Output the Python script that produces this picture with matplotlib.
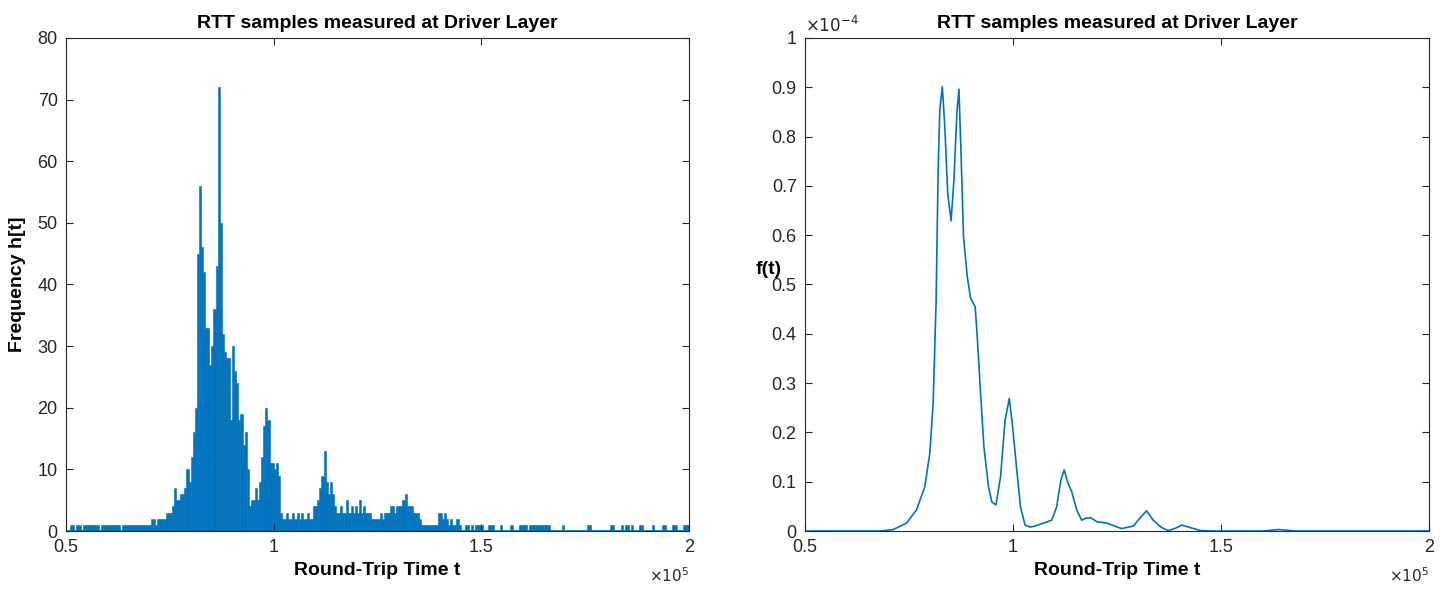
import numpy as np
import matplotlib
matplotlib.use("Agg")
import matplotlib.pyplot as plt

plt.rcParams["font.family"] = ["Liberation Sans", "DejaVu Sans"]

# ── Data ──────────────────────────────────────────────────────
BIN_START = 50000
BIN_WIDTH = 500

# histogram counts, one row per 10 000 (20 bins of 500)
counts_050 = [0, 0, 1, 1, 0, 1, 1, 0, 1, 1, 1, 1, 1, 1, 1, 1, 0, 1, 1, 1]
counts_060 = [1, 1, 1, 1, 1, 1, 0, 1, 1, 1, 1, 1, 1, 1, 1, 1, 1, 1, 1, 1]
counts_070 = [1, 2, 2, 1, 2, 2, 2, 2, 3, 3, 3, 4, 7, 5, 5, 6, 6, 7, 10, 8]
counts_080 = [12, 16, 20, 45, 56, 46, 42, 33, 33, 27, 30, 36, 43, 72, 50, 32, 29, 28, 28, 18]
counts_090 = [30, 26, 24, 18, 19, 14, 16, 10, 4, 5, 5, 7, 5, 8, 12, 17, 20, 18, 11, 11]
counts_100 = [10, 11, 9, 3, 2, 2, 3, 2, 2, 3, 2, 3, 2, 3, 2, 2, 3, 2, 2, 4]
counts_110 = [4, 5, 7, 9, 13, 8, 6, 8, 6, 4, 3, 3, 4, 3, 3, 5, 3, 4, 3, 4]
counts_120 = [3, 5, 3, 4, 3, 3, 3, 2, 2, 2, 2, 3, 2, 3, 3, 3, 4, 4, 3, 4]
counts_130 = [4, 4, 5, 6, 4, 4, 4, 3, 3, 3, 2, 1, 1, 1, 1, 1, 1, 1, 1, 3]
counts_140 = [3, 2, 3, 2, 1, 2, 1, 1, 2, 1, 0, 0, 1, 1, 0, 1, 0, 1, 1, 1]
counts_150 = [1, 0, 0, 1, 1, 1, 0, 0, 0, 1, 0, 0, 0, 0, 1, 0, 0, 0, 1, 1]
counts_160 = [1, 1, 0, 1, 1, 1, 1, 1, 1, 1, 1, 1, 1, 0, 0, 0, 0, 0, 0, 1]
counts_170 = [0, 0, 0, 0, 0, 0, 0, 0, 0, 0, 0, 1, 1, 0, 0, 0, 0, 0, 0, 0]
counts_180 = [0, 0, 1, 1, 0, 0, 0, 1, 0, 1, 1, 0, 1, 0, 0, 0, 1, 1, 0, 0]
counts_190 = [0, 0, 1, 0, 0, 0, 0, 1, 1, 0, 0, 0, 1, 1, 0, 0, 0, 1, 1, 1]

# estimated density f(t), in units of 1e-4
rtt_t = [50000, 60000, 68000, 71200, 74400, 76800, 78800, 80000, 80800,
         81500, 82000, 82400, 83000, 83600, 84300, 85100, 85800, 86500,
         87000, 87500, 88100, 89000, 89800, 90900, 91400, 92100, 93000,
         94100, 94900, 95900, 97000, 98100, 99100, 99900, 100900, 101800,
         102900, 104100, 105300, 107300, 109300, 110500, 111500, 112300,
         113200, 114100, 115300, 116500, 117500, 118700, 120100, 122500,
         126100, 128900, 130500, 132100, 133700, 135700, 137300, 138900,
         140600, 142600, 145000, 148200, 160000, 164000, 168000, 200000]
pdf_e4 = [0.0, 0.0, 0.0, 0.003, 0.016, 0.043, 0.09, 0.158, 0.26,
          0.462, 0.732, 0.854, 0.901, 0.82, 0.685, 0.629, 0.712, 0.848,
          0.896, 0.767, 0.597, 0.516, 0.472, 0.455, 0.394, 0.293, 0.171,
          0.09, 0.059, 0.053, 0.11, 0.225, 0.269, 0.212, 0.124, 0.049,
          0.012, 0.008, 0.01, 0.016, 0.022, 0.049, 0.103, 0.124,
          0.097, 0.08, 0.043, 0.022, 0.026, 0.027, 0.019, 0.016,
          0.005, 0.01, 0.026, 0.041, 0.022, 0.007, 0.001, 0.005,
          0.012, 0.007, 0.001, 0.0, 0.0, 0.003, 0.0, 0.0]

TITLE = "RTT samples measured at Driver Layer"
X_TICKS = [50000, 100000, 150000, 200000]
X_TICK_LABELS = ["0.5", "1", "1.5", "2"]
BLUE = "#0072BD"
AX_COLOR = "#262626"

counts = np.concatenate([counts_050, counts_060, counts_070, counts_080,
                         counts_090, counts_100, counts_110, counts_120,
                         counts_130, counts_140, counts_150, counts_160,
                         counts_170, counts_180, counts_190])
bin_left = BIN_START + BIN_WIDTH * np.arange(len(counts))


def style_axes(ax):
    ax.tick_params(direction="in", top=True, right=True, length=5,
                   width=0.8, colors=AX_COLOR, labelsize=13, pad=6)
    for sp in ax.spines.values():
        sp.set_color(AX_COLOR)
        sp.set_linewidth(0.8)
    ax.set_xlim(50000, 200000)
    ax.set_xticks(X_TICKS)
    ax.set_xticklabels(X_TICK_LABELS)
    ax.set_title(TITLE, fontsize=14, fontweight="bold", pad=7)
    ax.set_xlabel("Round-Trip Time t", fontsize=14, fontweight="bold",
                  labelpad=4)
    ax.text(1.0, -0.072, r"$\times10^{5}$", transform=ax.transAxes,
            ha="right", va="top", fontsize=11, color=AX_COLOR)


fig = plt.figure(figsize=(14.5, 5.92), dpi=100)
ax1 = fig.add_axes([0.0455, 0.103, 0.4297, 0.833])
ax2 = fig.add_axes([0.5552, 0.103, 0.4303, 0.833])

# ── Left: histogram ───────────────────────────────────────────
ax1.bar(bin_left, counts, width=BIN_WIDTH, align="edge", color=BLUE,
        edgecolor=BLUE, linewidth=0.4)
ax1.axhline(0, color=BLUE, linewidth=1.2)
ax1.set_ylim(0, 80)
ax1.set_yticks(np.arange(0, 81, 10))
ax1.set_ylabel("Frequency h[t]", fontsize=14, fontweight="bold", labelpad=8)
style_axes(ax1)

# ── Right: estimated density ─────────────────────────────────
ax2.plot(rtt_t, np.array(pdf_e4) * 1e-4, color=BLUE, linewidth=1.2)
ax2.set_ylim(0, 1e-4)
yt = np.round(np.arange(0, 1.01, 0.1), 1)
ax2.set_yticks(yt * 1e-4)
ax2.set_yticklabels(["0" if v == 0 else ("1" if v == 1 else f"{v:g}") for v in yt])
ax2.text(-0.058, 0.53, "f(t)", transform=ax2.transAxes, ha="center",
         va="center", fontsize=14, fontweight="bold")
ax2.text(0.0, 1.005, r"$\times10^{-4}$", transform=ax2.transAxes,
         ha="left", va="bottom", fontsize=12, color=AX_COLOR)
style_axes(ax2)

fig.savefig("out.png", dpi=100)
